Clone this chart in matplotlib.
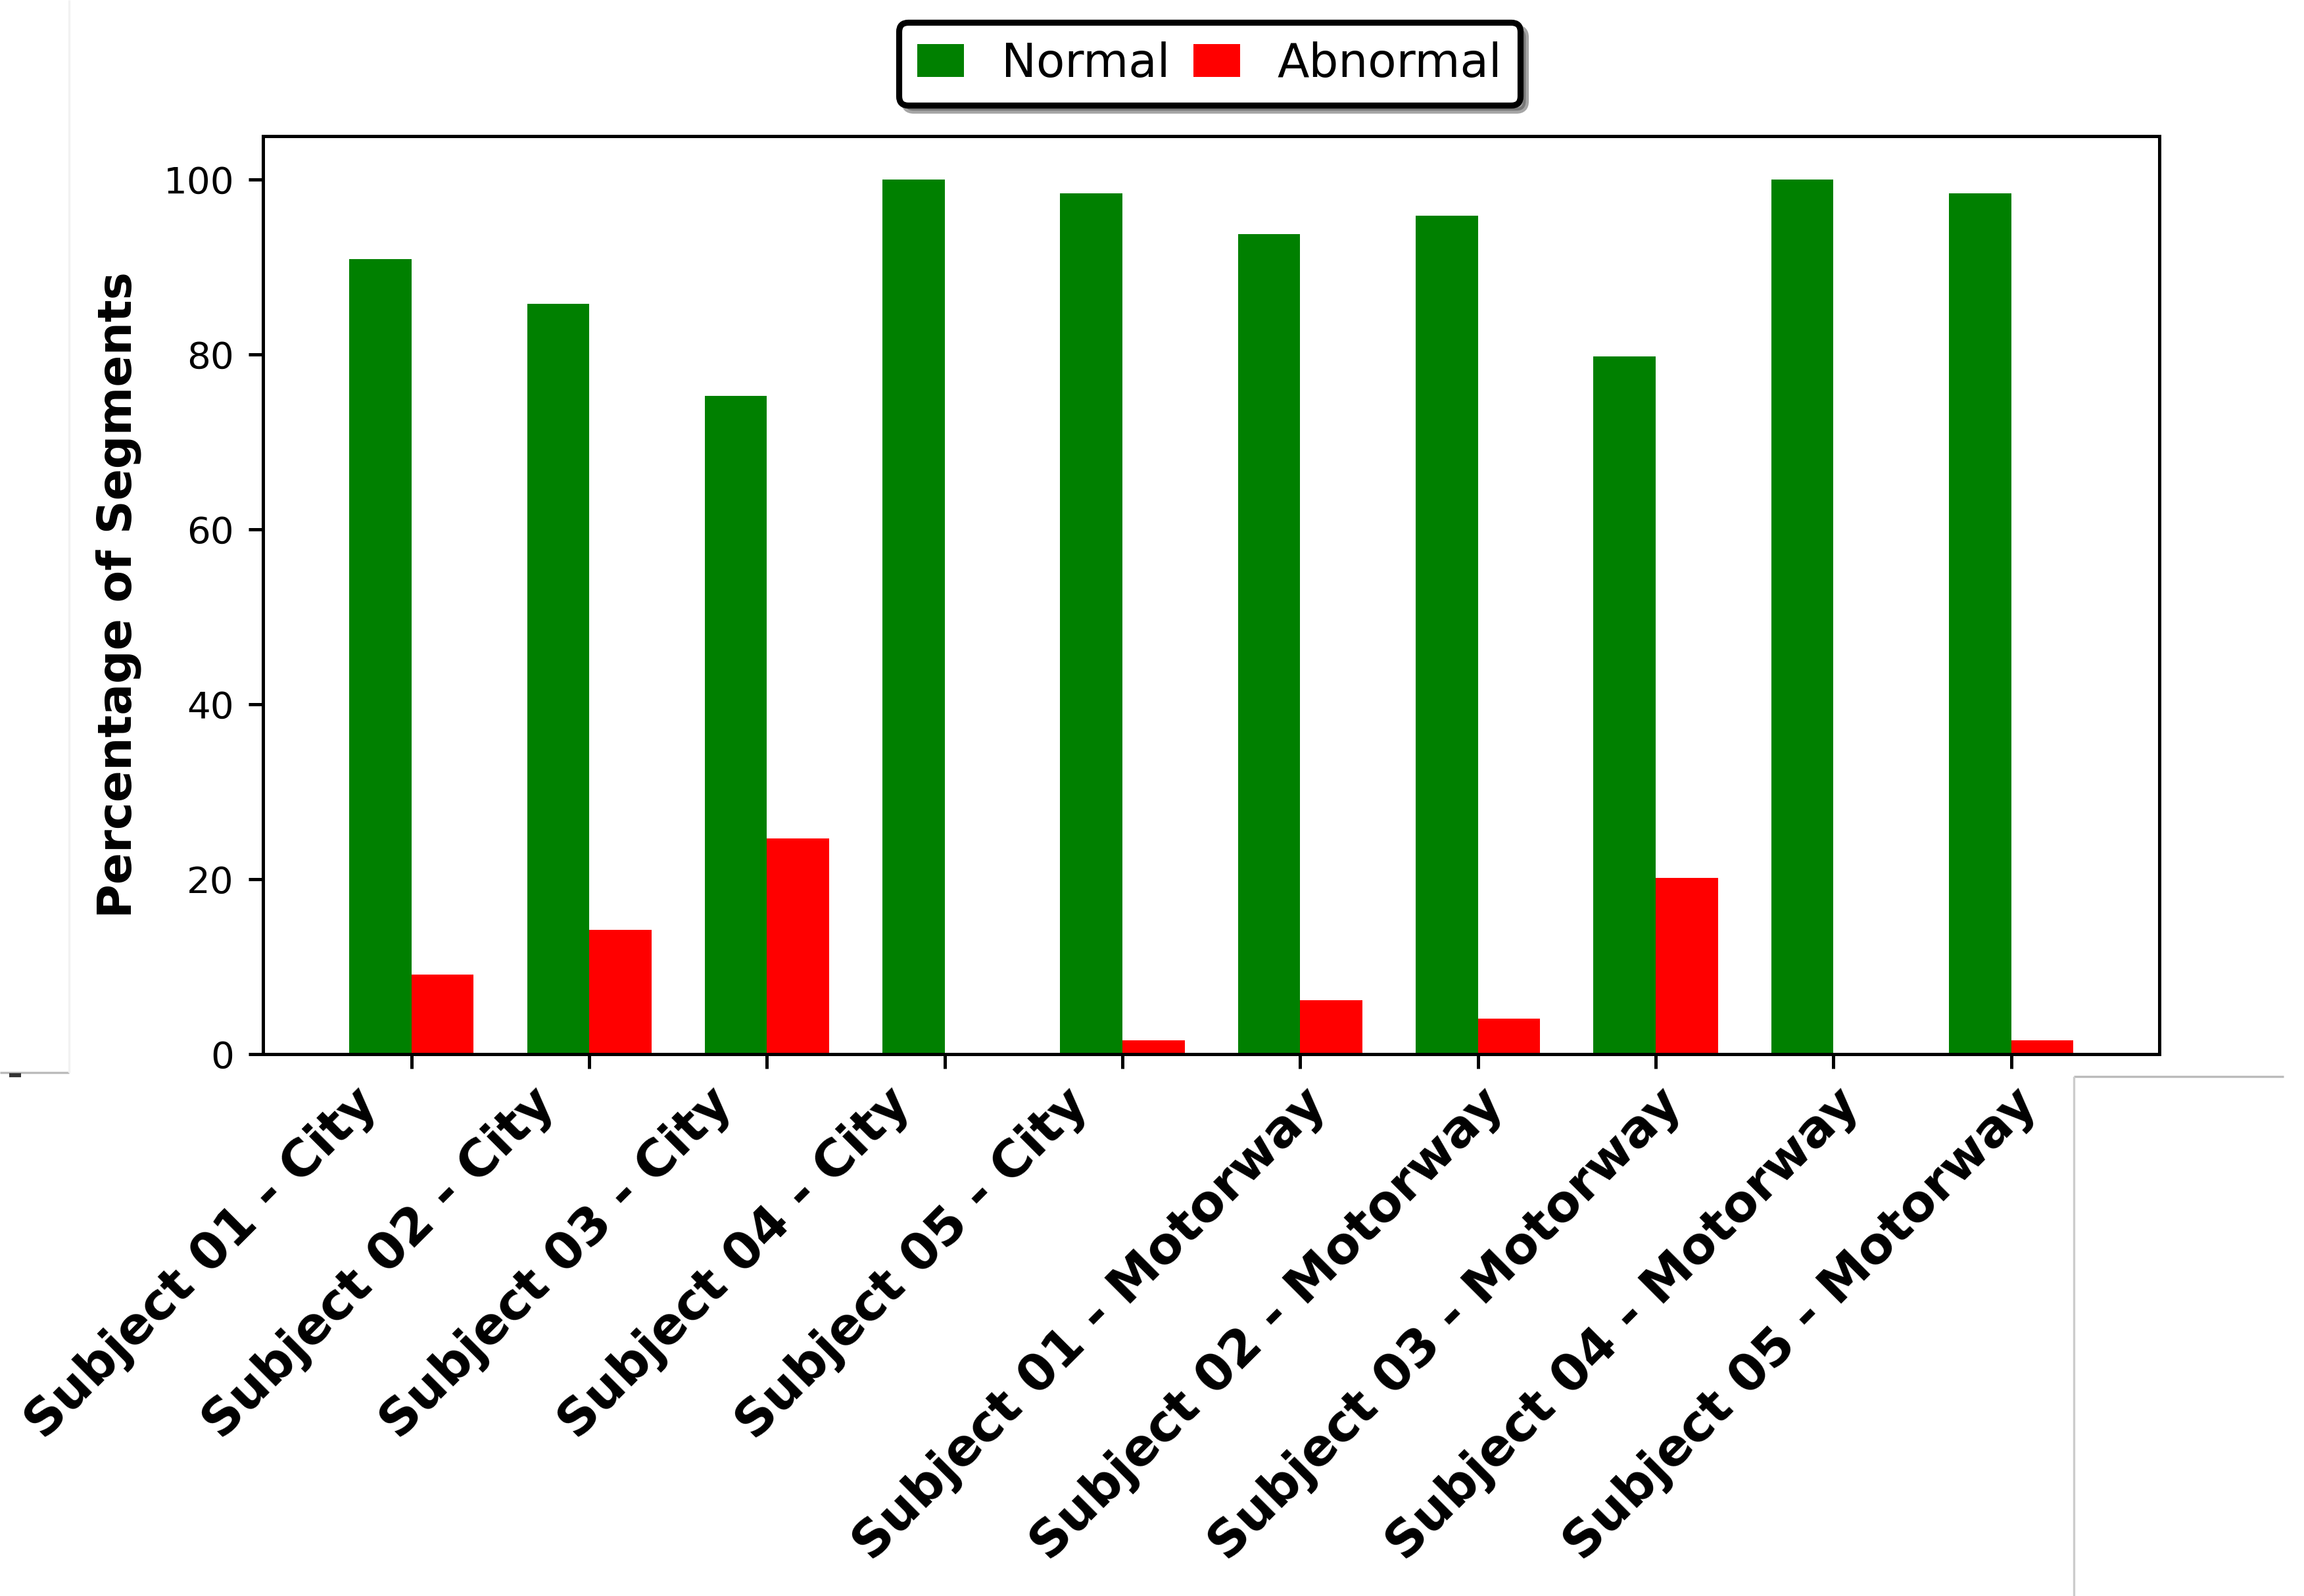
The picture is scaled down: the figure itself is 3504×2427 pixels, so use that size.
"""
plot.py

Porcentaje de segmentos normales / anormales por sujeto y escenario.
Genera la figura out.png
"""

import numpy as np
import matplotlib
matplotlib.use("Agg")
import matplotlib.pyplot as plt
from matplotlib.lines import Line2D

# Datos
categories = [
    "Subject 01 - City",
    "Subject 02 - City",
    "Subject 03 - City",
    "Subject 04 - City",
    "Subject 05 - City",
    "Subject 01 - Motorway",
    "Subject 02 - Motorway",
    "Subject 03 - Motorway",
    "Subject 04 - Motorway",
    "Subject 05 - Motorway",
]
normal = [90.9, 85.8, 75.3, 100.0, 98.4, 93.8, 95.9, 79.8, 100.0, 98.4]
abnormal = [9.1, 14.2, 24.7, 0.0, 1.6, 6.2, 4.1, 20.2, 0.0, 1.6]
series_names = ["Normal", "Abnormal"]
yticks = [0, 20, 40, 60, 80, 100]


def fig_line(fig, x, y, color, lw=1.0):
    # Linea en coordenadas de figura (restos del recorte original)
    fig.add_artist(Line2D(x, y, transform=fig.transFigure, color=color,
                          linewidth=lw, solid_capstyle="butt"))


def plot_segments(output_path="out.png"):
    fig = plt.figure(figsize=(11.68, 8.09), dpi=300)
    ax = fig.add_axes([0.1142, 0.3394, 0.8231, 0.5755])

    x = np.arange(len(categories))
    width = 0.35

    # Barras agrupadas
    ax.bar(x - width / 2, normal, width, color="green", label=series_names[0])
    ax.bar(x + width / 2, abnormal, width, color="red", label=series_names[1])

    # Marcas en el centro de cada grupo; el texto va aparte porque en el
    # original las etiquetas quedan centradas a la izquierda de la marca
    ax.set_xticks(x)
    ax.set_xticklabels([])
    for xi, name in zip(x, categories):
        ax.text(xi - 1.18, -0.027, name, transform=ax.get_xaxis_transform(),
                rotation=45, ha="center", va="top", fontsize=18.6,
                fontweight="bold", clip_on=False)

    ax.set_yticks(yticks)
    ax.tick_params(axis="both", length=5.3, width=1.2, pad=5.3)
    ax.tick_params(axis="y", labelsize=13.5)
    for spine in ax.spines.values():
        spine.set_linewidth(1.2)

    ax.set_ylabel("Percentage of Segments", fontsize=17,
                  fontweight="bold", labelpad=8)

    # Leyenda arriba, con sombra y marco grueso
    leg = ax.legend(loc="center", bbox_to_anchor=(0.525, 0.960),
                    bbox_transform=fig.transFigure, ncol=2, fontsize=17,
                    shadow=True, fancybox=True, framealpha=1,
                    handlelength=1.0, handletextpad=0.8, columnspacing=0.5)
    leg.get_frame().set_edgecolor("black")
    leg.get_frame().set_linewidth(2.2)

    # Restos de recorte que aparecen en la imagen original
    fig_line(fig, [0.0, 0.030], [0.328, 0.328], "#bbbbbb", 0.8)
    fig_line(fig, [0.030, 0.030], [0.328, 1.0], "#f2f2f2", 0.8)
    fig_line(fig, [0.004, 0.009], [0.3265, 0.3265], "#333333", 1.5)
    fig_line(fig, [0.900, 0.9912], [0.3255, 0.3255], "#bbbbbb", 0.8)
    fig_line(fig, [0.900, 0.900], [0.0, 0.3255], "#cccccc", 0.8)

    fig.savefig(output_path, dpi=300)


if __name__ == "__main__":
    plot_segments("out.png")
